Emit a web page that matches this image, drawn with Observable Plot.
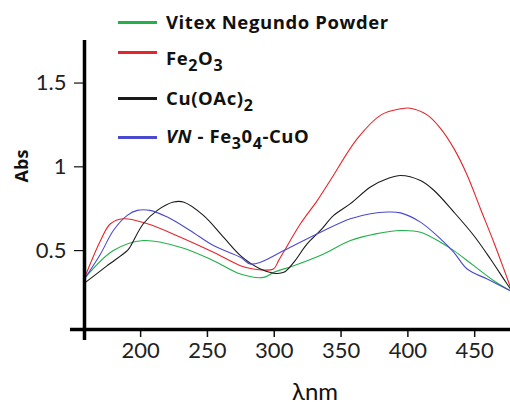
<!DOCTYPE html>
<html>
<head>
<meta charset="utf-8">
<script src="https://cdn.jsdelivr.net/npm/d3@7"></script>
<script src="https://cdn.jsdelivr.net/npm/@observablehq/plot@0.6"></script>
<style>
  html, body { margin: 0; padding: 0; background: #fff; }
  #wrap { position: relative; width: 510px; height: 404px; overflow: hidden; font-family: Lato, sans-serif; }
  #wrap svg { position: absolute; left: 0; top: 0; }
  .leg { position: absolute; left: 0; top: 0; width: 510px; height: 160px; pointer-events: none; }
  .item { position: absolute; left: 118px; height: 0; }
  .swatch { position: absolute; left: 0; width: 39px; height: 3px; margin-top: -1.5px; }
  .lab { position: absolute; left: 48px; font-family: "Open Sans", sans-serif; font-weight: bold; font-size: 18.5px; letter-spacing: 0.6px; white-space: nowrap; color: #111; line-height: 1; }
  .lab sub { font-size: 16px; vertical-align: -6px; line-height: 0; }
  .ylab { position: absolute; left: 21px; top: 166px; transform: translate(-50%, -50%) rotate(-90deg); font-family: "Open Sans", sans-serif; font-weight: bold; font-size: 18px; color: #111; line-height: 1; }
  .xlab { position: absolute; left: 315px; top: 391px; transform: translate(-50%, -50%); font-size: 24px; color: #111; line-height: 1; }
</style>
</head>
<body>
<div id="wrap"></div>
<script>
// Series names and colours
const seriesNames = ["Vitex Negundo Powder", "Fe2O3", "Cu(OAc)2", "VN - Fe3O4-CuO"];
const seriesColors = ["#22b04a", "#e5242b", "#1a1a1a", "#4a4ad0"];

// Vitex Negundo Powder (green)
const vitexNm  = [158.7, 179.6, 202, 229.8, 254.5, 274.7, 292, 299.6, 314.6, 337, 357, 376, 394.5, 409.4, 424.4, 434.4, 449.3, 464.3, 476.8];
const vitexAbs = [0.34, 0.50, 0.56, 0.52, 0.44, 0.36, 0.34, 0.37, 0.41, 0.48, 0.56, 0.60, 0.62, 0.61, 0.55, 0.50, 0.41, 0.32, 0.26];

// Fe2O3 (red)
const feNm  = [158.7, 170, 177.4, 187.1, 205.1, 229.8, 254.5, 274.7, 284.4, 299.4, 303.2, 306.9, 319.6, 332.3, 342, 362.3, 380, 394.5, 401.8, 414.4, 424.4, 434.4, 444.4, 454.3, 464.3, 471.8, 476.8];
const feAbs = [0.35, 0.56, 0.66, 0.69, 0.66, 0.58, 0.49, 0.41, 0.39, 0.39, 0.44, 0.49, 0.66, 0.80, 0.92, 1.17, 1.31, 1.346, 1.35, 1.31, 1.23, 1.11, 0.95, 0.75, 0.55, 0.39, 0.28];

// Cu(OAc)2 (black)
const cuNm  = [158.7, 175, 190, 192, 202, 212.5, 224.6, 232, 247, 262, 274.7, 289.7, 299.6, 307.1, 314.6, 324.6, 334.6, 344.5, 357, 372, 385, 394.5, 409.4, 419.4, 434.4, 449.3, 461.8, 471.8, 476.8];
const cuAbs = [0.31, 0.41, 0.50, 0.52, 0.66, 0.74, 0.79, 0.79, 0.71, 0.58, 0.47, 0.39, 0.365, 0.37, 0.43, 0.54, 0.62, 0.71, 0.78, 0.88, 0.93, 0.948, 0.918, 0.86, 0.73, 0.59, 0.45, 0.33, 0.27];

// VN - Fe3O4-CuO (blue)
const vnNm  = [158.7, 170, 179.6, 190, 197.5, 207, 220, 237, 254.5, 274.7, 282, 289.7, 307.1, 334.6, 357, 372, 384.7, 394.5, 409.4, 424.4, 434.4, 444.4, 459.4, 476.8];
const vnAbs = [0.34, 0.48, 0.62, 0.71, 0.74, 0.74, 0.70, 0.62, 0.53, 0.46, 0.42, 0.43, 0.50, 0.61, 0.69, 0.72, 0.73, 0.725, 0.67, 0.57, 0.49, 0.39, 0.33, 0.26];

// Axis ticks
const xTicks = [200, 250, 300, 350, 400, 450];
const yTicks = [0.5, 1, 1.5];
const yTickLabels = ["0.5", "1", "1.5"];

const xDomain = [158, 476.8];
const yDomain = [0.029, 1.754];

const allX = [vitexNm, feNm, cuNm, vnNm];
const allY = [vitexAbs, feAbs, cuAbs, vnAbs];
const rows = [];
allX.forEach((xs, s) => xs.forEach((x, i) => rows.push({series: seriesNames[s], nm: x, abs: allY[s][i]})));

const chart = Plot.plot({
  width: 510,
  height: 404,
  marginLeft: 84,
  marginRight: 0,
  marginTop: 40,
  marginBottom: 75,
  style: {fontFamily: "Lato, sans-serif", color: "#222", background: "transparent", overflow: "visible"},
  x: {domain: xDomain},
  y: {domain: yDomain},
  color: {domain: seriesNames, range: seriesColors},
  marks: [
    Plot.line(rows, {x: "nm", y: "abs", z: "series", stroke: "series", strokeWidth: 1.1, curve: "catmull-rom"}),
    Plot.axisX({ticks: xTicks, tickSize: 8, tickPadding: 5, fontSize: 22, label: null, stroke: "#111", strokeWidth: 1.5, tickFormat: d => String(d)}),
    Plot.axisY({ticks: yTicks, tickSize: 10, tickPadding: 8, fontSize: 22, label: null, stroke: "#111", strokeWidth: 1.2, tickFormat: (d, i) => yTickLabels[i]}),
    Plot.ruleY([yDomain[0]], {x1: 147.5, x2: 476.8, stroke: "#000", strokeWidth: 3.5}),
    Plot.ruleX([xDomain[0]], {y1: -0.036, y2: yDomain[1], stroke: "#000", strokeWidth: 3.5})
  ]
});

const wrap = document.getElementById("wrap");
wrap.appendChild(chart);

const legend = document.createElement("div");
legend.className = "leg";
const legendHtml = [
  "Vitex Negundo Powder",
  "Fe<sub>2</sub>O<sub>3</sub>",
  "Cu(OAc)<sub>2</sub>",
  "<i>VN</i> - Fe<sub>3</sub>0<sub>4</sub>-CuO"
];
const legendY = [22.3, 52.7, 98.3, 137.7];
const labelTop = [-9.5, -3.7, -9.1, -11];
legendHtml.forEach((h, i) => {
  const it = document.createElement("div");
  it.className = "item";
  it.style.top = legendY[i] + "px";
  it.innerHTML = `<div class="swatch" style="background:${seriesColors[i]}"></div><div class="lab" style="top:${labelTop[i]}px">${h}</div>`;
  legend.appendChild(it);
});
wrap.appendChild(legend);

const yl = document.createElement("div");
yl.className = "ylab"; yl.textContent = "Abs";
wrap.appendChild(yl);
const xl = document.createElement("div");
xl.className = "xlab"; xl.textContent = "λnm";
wrap.appendChild(xl);
</script>
</body>
</html>
